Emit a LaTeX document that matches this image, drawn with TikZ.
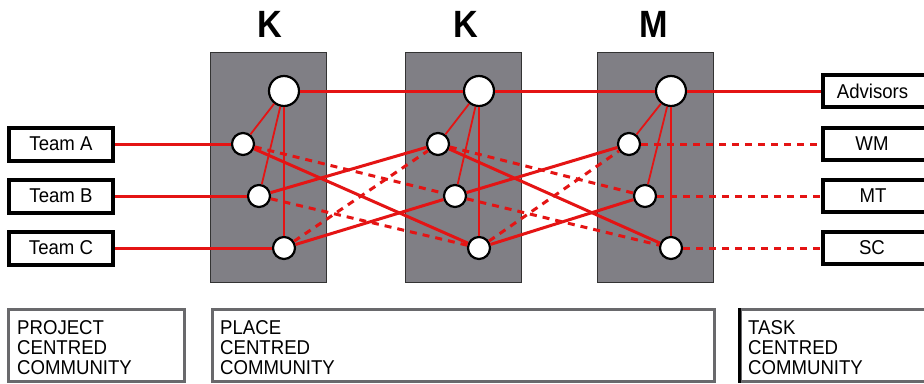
\documentclass[tikz,border=0pt]{standalone}
\usepackage{fontspec}
\setmainfont{Liberation Sans}
\usepackage{graphicx}
\definecolor{linkred}{RGB}{228,20,20}
\definecolor{panelgray}{RGB}{128,127,133}
\definecolor{frame}{RGB}{105,105,108}
\newcommand{\nrw}[1]{\scalebox{0.93}[1]{#1}}
\begin{document}
\begin{tikzpicture}[x=1pt,y=-1pt,
  panel/.style={draw=black!80, line width=1.2pt, fill=panelgray,
    minimum width=116, minimum height=230, inner sep=0},
  hub/.style={circle, draw=black, line width=2.2pt, fill=white,
    minimum size=30, inner sep=0},
  member/.style={circle, draw=black, line width=2.2pt, fill=white,
    minimum size=22, inner sep=0},
  title/.style={font=\fontsize{38}{38}\selectfont\bfseries, inner sep=0},
  tag/.style={draw=black, line width=4pt, fill=white, minimum width=104,
    minimum height=33, inner sep=0, font=\fontsize{20}{20}\selectfont},
  rtag/.style={draw=black, line width=4pt, fill=white, minimum width=130,
    minimum height=32, inner sep=0},
  tagtext/.style={inner sep=0, font=\fontsize{20}{20}\selectfont},
  community/.style={draw=frame, line width=2.6pt, fill=white, inner sep=0},
  commtext/.style={anchor=base west, inner sep=0, font=\fontsize{20}{20}\selectfont},
  link/.style={draw=linkred, line width=3pt},
  spoke/.style={draw=linkred, line width=1.8pt},
  weak/.style={draw=linkred, line width=3pt, dash pattern=on 7pt off 6pt}
]
\clip (0,0) rectangle (924,383);
\fill[white] (0,0) rectangle (924,383);

% site headings
\node[title] (h1) at (270,24.5) {\scalebox{0.9}[1]{K}};
\node[title] (h2) at (466,24.5) {\scalebox{0.9}[1]{K}};
\node[title] (h3) at (654,24.5) {\scalebox{0.9}[1]{M}};

% site panels
\node[panel] (p1) at (268.5,167.5) {};
\node[panel] (p2) at (463.5,167.5) {};
\node[panel] (p3) at (655.5,167.5) {};

% hubs and members of each site
\node[hub] (big1) at (284,91) {};
\node[hub] (big2) at (479,91) {};
\node[hub] (big3) at (671,91) {};
\node[member] (a1) at (243,144) {};
\node[member] (b1) at (259,196) {};
\node[member] (c1) at (284,248) {};
\node[member] (a2) at (438,144) {};
\node[member] (b2) at (455,196) {};
\node[member] (c2) at (479,248) {};
\node[member] (a3) at (629,144) {};
\node[member] (b3) at (645,196) {};
\node[member] (c3) at (671,248) {};

% project teams
\node[tag] (ta) at (61,144) {\nrw{Team A}};
\node[tag] (tb) at (61,196) {\nrw{Team B}};
\node[tag] (tc) at (61,248) {\nrw{Team C}};

% task groups
\node[rtag] (adv) at (888,91) {};
\node[rtag] (wm) at (888,144) {};
\node[rtag] (mt) at (888,196) {};
\node[rtag] (sc) at (888,248) {};
\node[tagtext] (advt) at (872.5,91) {\nrw{Advisors}};
\node[tagtext] (wmt) at (872,144) {\nrw{WM}};
\node[tagtext] (mtt) at (873,196) {\nrw{MT}};
\node[tagtext] (sct) at (872,248) {\nrw{SC}};

% spokes inside each site
\foreach \s in {1,2,3} {
  \draw[spoke] (big\s) -- (a\s);
  \draw[spoke] (big\s) -- (b\s);
  \draw[spoke] (big\s) -- (c\s);
}

% hub chain
\draw[link] (big1) -- (big2);
\draw[link] (big2) -- (big3);
\draw[link] (big3) -- (adv);

% teams into the first site
\draw[link] (ta) -- (a1);
\draw[link] (tb) -- (b1);
\draw[link] (tc) -- (c1);

% links between neighbouring sites
\foreach \s/\t in {1/2,2/3} {
  \draw[link] (a\s) -- (c\t);
  \draw[link] (b\s) -- (a\t);
  \draw[link] (c\s) -- (b\t);
  \draw[weak] (a\s) -- (b\t);
  \draw[weak] (b\s) -- (c\t);
  \draw[weak] (c\s) -- (a\t);
}

% last site to the task groups
\draw[weak] (a3) -- (wm);
\draw[weak] (b3) -- (mt);
\draw[weak] (c3) -- (sc);

% community boxes
\node[community, minimum width=176, minimum height=72] (cp) at (96.5,345.5) {};
\node[community, minimum width=502, minimum height=72] (cl) at (463.5,345.5) {};
\node[community, minimum width=200, minimum height=72] (ct) at (841,345.5) {};
\draw[black, line width=2.6pt] (ct.north west) -- (ct.south west);

\node[commtext] (cp1) at (17,334) {\nrw{PROJECT}};
\node[commtext] (cp2) at (17,354) {\nrw{CENTRED}};
\node[commtext] (cp3) at (17,374) {\nrw{COMMUNITY}};
\node[commtext] (cl1) at (220,334) {\nrw{PLACE}};
\node[commtext] (cl2) at (220,354) {\nrw{CENTRED}};
\node[commtext] (cl3) at (220,374) {\nrw{COMMUNITY}};
\node[commtext] (ct1) at (748,334) {\nrw{TASK}};
\node[commtext] (ct2) at (748,354) {\nrw{CENTRED}};
\node[commtext] (ct3) at (748,374) {\nrw{COMMUNITY}};
\end{tikzpicture}
\end{document}
